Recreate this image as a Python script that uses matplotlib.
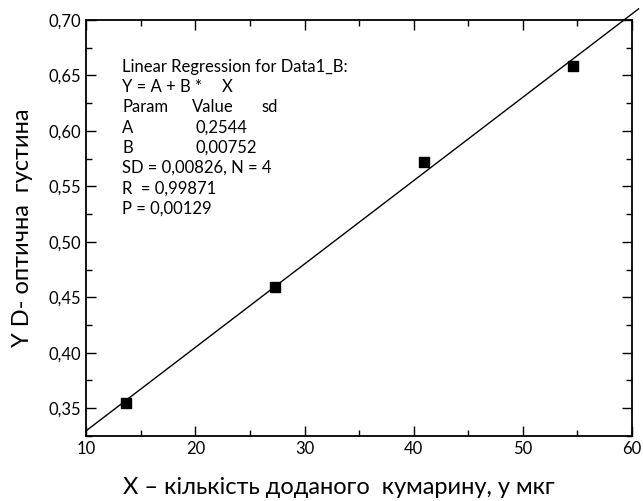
import matplotlib.pyplot as plt
from matplotlib.ticker import MultipleLocator, FuncFormatter

plt.rcParams['font.family'] = ['Lato', 'DejaVu Sans']

# дані
kumaryn = [13.65, 27.3, 40.95, 54.6]
gustyna = [0.355, 0.459, 0.572, 0.659]
A = 0.2544
B = 0.00752
fit_x = [10, 60.6]

# рядки звіту регресії: (колонка1, колонка2, колонка3)
stat_lines = [
    ("Linear Regression for Data1_B:", "", ""),
    ("Y = A + B *", "X", ""),
    ("Param", "Value", "sd"),
    ("A", "0,2544", ""),
    ("B", "0,00752", ""),
    ("SD = 0,00826, N = 4", "", ""),
    ("R  = 0,99871", "", ""),
    ("P = 0,00129", "", ""),
]

fig = plt.figure(figsize=(6.43, 5.01), dpi=100)
ax = fig.add_axes([0.134, 0.13, 0.849, 0.83])

fit_y = [A + B * x for x in fit_x]
ax.plot(fit_x, fit_y, color='black', lw=1.0, clip_on=False, zorder=2)
ax.scatter(kumaryn, gustyna, marker='s', s=55, color='black', zorder=3)

ax.set_xlim(10, 60)
ax.set_ylim(0.325, 0.70)
ax.xaxis.set_major_locator(MultipleLocator(10))
ax.xaxis.set_minor_locator(MultipleLocator(5))
ax.yaxis.set_major_locator(MultipleLocator(0.05))
ax.yaxis.set_minor_locator(MultipleLocator(0.025))
ax.yaxis.set_major_formatter(FuncFormatter(lambda v, p: f"{v:.2f}".replace('.', ',')))
ax.tick_params(which='both', direction='in', top=True, right=True, labelsize=12)
ax.tick_params(which='major', length=7, width=1)
ax.tick_params(which='minor', length=4, width=1)
for s in ax.spines.values():
    s.set_linewidth(1.3)

# текст регресії
y0 = 0.887
dy = 0.0486
cols = [0.066, 0.1935, 0.322]
for i, row in enumerate(stat_lines):
    yy = y0 - i * dy
    for j, t in enumerate(row):
        if not t:
            continue
        xx = cols[j]
        if i == 1 and j == 1:
            xx = 0.248
        if i in (3, 4) and j == 1:
            xx = 0.1996
        ax.text(xx, yy, t, transform=ax.transAxes, fontsize=12, va='center')

ax.set_xlabel("X – кількість доданого  кумарину, у мкг", fontsize=17)
ax.set_ylabel("Y D- оптична  густина", fontsize=17)
ax.xaxis.set_label_coords(0.463, -0.10)
ax.yaxis.set_label_coords(-0.097, 0.5)

plt.savefig('out.png', dpi=100)
